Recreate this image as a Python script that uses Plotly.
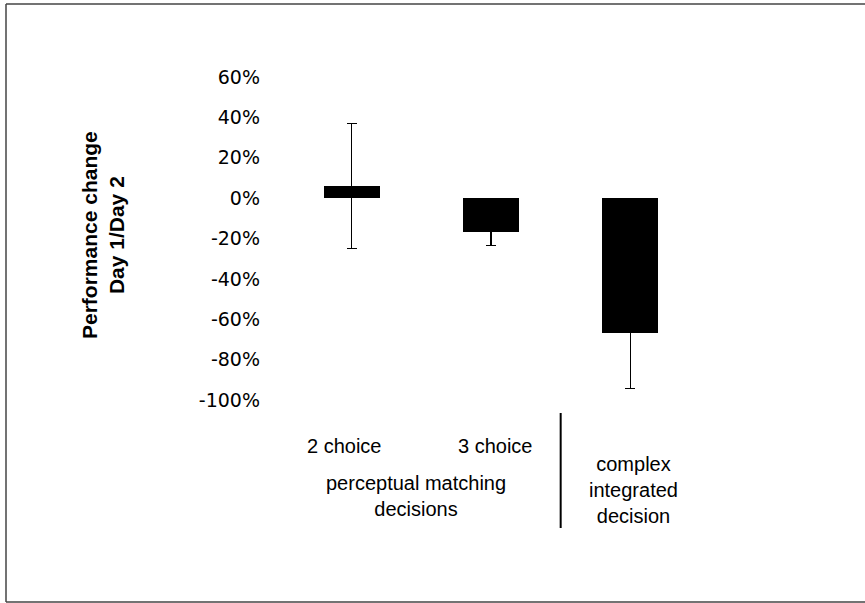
import plotly.graph_objects as go

# ---- data ----
categories = ["2 choice", "3 choice", "complex integrated decision"]
values = [0.06, -0.17, -0.67]
errors = [0.31, 0.065, 0.273]
tick_vals = [0.6, 0.4, 0.2, 0.0, -0.2, -0.4, -0.6, -0.8, -1.0]
tick_text = ["60%", "40%", "20%", "0%", "-20%", "-40%", "-60%", "-80%", "-100%"]
y_title = "<b>Performance change<br>Day 1/Day 2</b>"
group_left = "perceptual matching<br>decisions"
group_right = "complex<br>integrated<br>decision"

W, H = 865, 603
ML, MR, MT, MB = 282, 165, 77, 203
PW = W - ML - MR
PH = H - MT - MB

def px(x):
    return (x - ML) / PW

def py(y):
    return (H - MB - y) / PH

xs = list(range(len(categories)))

fig = go.Figure()
fig.add_trace(go.Bar(
    x=xs, y=values, width=0.402,
    marker=dict(color="black", line=dict(width=0)),
    error_y=dict(type="data", array=errors, visible=True, color="black",
                 thickness=1.4, width=5),
    showlegend=False, hoverinfo="skip",
))

fig.update_layout(
    width=W, height=H,
    margin=dict(l=ML, r=MR, t=MT, b=MB),
    paper_bgcolor="white", plot_bgcolor="white",
    bargap=0,
    xaxis=dict(range=[-0.5, 2.5], showticklabels=False, showgrid=False,
               zeroline=False, showline=False, ticks=""),
    yaxis=dict(range=[-1.0, 0.6], tickvals=tick_vals, ticktext=tick_text,
               showgrid=False, zeroline=False, showline=False, ticks="",
               ticklabelstandoff=21,
               tickfont=dict(family="DejaVu Sans", size=19, color="#000")),
)

ann_font = dict(family="Arial, Liberation Sans", size=20, color="#000")
anns = [
    dict(text=categories[0], x=xs[0] - 0.055, y=py(446)),
    dict(text=categories[1], x=xs[1] + 0.03, y=py(446)),
    dict(text=group_left, x=0.46, y=py(496)),
    dict(text=group_right, x=xs[2] + 0.02, y=py(490)),
]
for a in anns:
    fig.add_annotation(text=a["text"], x=a["x"], y=a["y"], xref="x", yref="paper",
                       showarrow=False, xanchor="center", yanchor="middle",
                       font=ann_font, align="center")

fig.add_annotation(text=y_title, x=px(103), y=py(235), xref="paper", yref="paper",
                   showarrow=False, textangle=-90, xanchor="center", yanchor="middle",
                   font=dict(family="Arial, Liberation Sans", size=21, color="#000"),
                   align="center")

# separator line between groups
fig.add_shape(type="line", xref="x", yref="paper", x0=1.5, x1=1.5,
              y0=py(413), y1=py(528), line=dict(color="black", width=2))

# outer frame: left, top and bottom edges only (right edge is off the page)
border = dict(color="#444", width=1.5)
fig.add_shape(type="line", xref="paper", yref="paper",
              x0=px(6), x1=px(6), y0=py(602), y1=py(4), line=border)
fig.add_shape(type="line", xref="paper", yref="paper",
              x0=px(6), x1=px(865), y0=py(4), y1=py(4), line=border)
fig.add_shape(type="line", xref="paper", yref="paper",
              x0=px(6), x1=px(865), y0=py(602), y1=py(602), line=border)

fig.write_html("out.html", config={"displayModeBar": False},
               post_script="document.body.style.margin='0px';"
                           "document.body.style.overflow='hidden';")
